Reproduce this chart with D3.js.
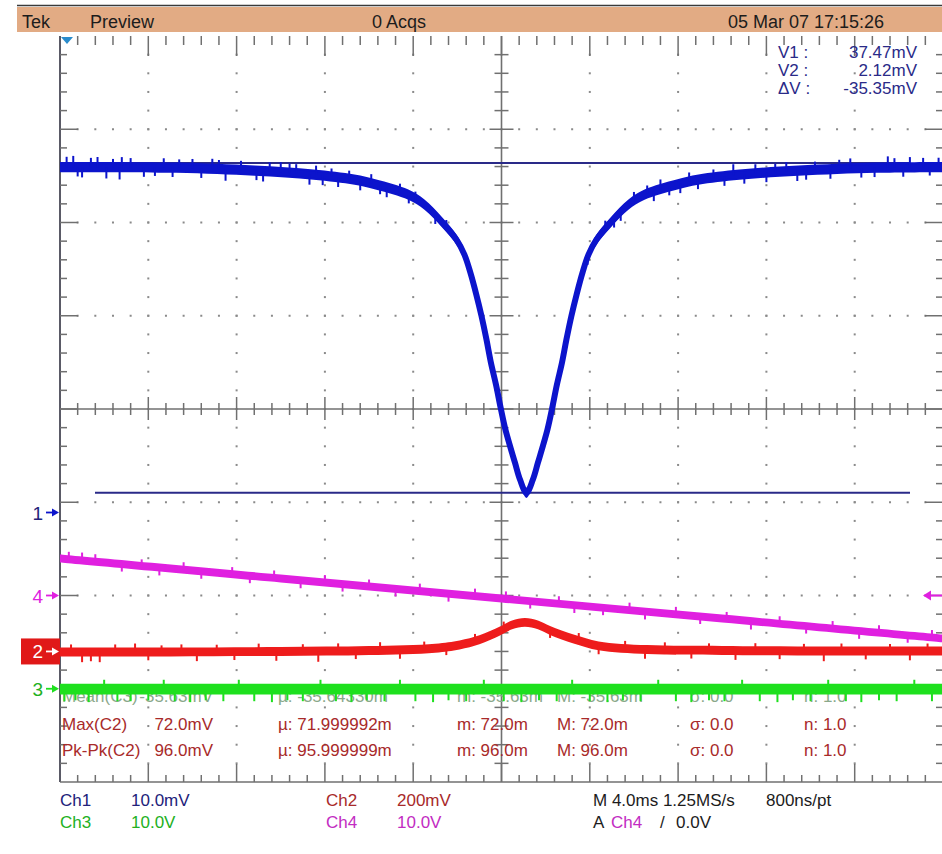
<!DOCTYPE html>
<html>
<head>
<meta charset="utf-8">
<script src="https://cdn.jsdelivr.net/npm/d3@7"></script>
<style>
  html, body { margin: 0; padding: 0; background: #fff; }
  svg { display: block; font-family: "Liberation Sans", Arial, sans-serif; }
</style>
</head>
<body>
<svg id="scope" width="942" height="854"></svg>
<script>
// ---------------- acquisition data ----------------
// Ch1: cavity transmission dip (mV) against time (ms)
const ch1Time  = [-20, -14.73, -11.19, -8.52, -6.66, -5.67, -4.22, -3.49, -2.68, -2.04, -1.68, -1.41, -1.14, -0.91, -0.68, -0.48, -0.25, -0.03, 0.18, 0.61, 0.84, 1.13,
                  1.42, 1.65, 2.08, 2.29, 2.51, 2.74, 2.94, 3.17, 3.40, 3.67, 3.94, 4.30, 4.94, 5.75, 6.48, 7.93, 8.92, 10.78, 13.45, 16.99, 20];
const ch1Volts = [37.05, 36.98, 36.66, 36.23, 35.69, 35.16, 34.08, 33.01, 31.08, 29.26, 27.65, 25.72, 23.36, 21.11, 18.53, 16.07, 13.71, 11.13, 8.88, 5.34, 3.52, 2.1,
                  3.52, 5.34, 8.88, 11.13, 13.71, 16.07, 18.53, 21.11, 23.36, 25.72, 27.65, 29.26, 31.08, 33.01, 34.08, 35.16, 35.69, 36.23, 36.66, 36.98, 37.05];
const ch1Spikes = [[-19.7, 1.1], [-19.4, 1.2], [-19.2, -1.0], [-19.0, -1.1], [-18.6, 1.0], [-18.3, 1.1], [-17.9, -1.2], [-17.6, 0.9], [-17.3, -1.3], [-17.2, 1.1], [-16.8, 1.0], [-16.2, -1.0], [-15.7, -0.9], [-15.3, 1.0], [-14.9, -1.0], [-14.6, 0.9], [-14.0, 1.0], [-13.6, -1.0], [-13.1, 1.1], [-12.8, 1.0], [-12.5, -1.2], [-11.8, 1.0], [-11.1, -1.0], [-10.8, -1.1], [-10.5, 1.0], [-10.0, 1.1], [-9.6, 1.0], [-9.3, 1.0], [-8.7, -1.1], [-8.4, 1.0], [-8.1, -1.0], [-7.7, 0.9], [-7.4, -1.0], [-6.9, 0.9], [-6.4, -1.0], [-5.9, 1.0], [-5.5, -0.9], [-5.2, -1.0], [-4.6, 0.9], [-4.2, -0.9], [-3.9, 0.8], [-3.0, -0.9], [-2.5, 0.8],
                   [3.9, -0.8], [4.7, 0.9], [5.1, -0.9], [5.4, -0.9], [6.0, 1.0], [6.6, 0.9], [6.9, -1.0], [7.2, 1.1], [7.6, -0.9], [8.1, -1.0], [8.5, 1.0], [8.9, -1.0], [9.6, 0.9], [10.1, -1.0], [10.5, 1.2], [11.0, -1.0], [11.5, 1.0], [12.0, -1.0], [12.4, 0.9], [12.9, 1.0], [13.4, -1.1], [13.8, -1.0], [14.2, 0.9], [14.9, -1.0], [15.3, 1.0], [15.8, 1.1], [16.3, -1.0], [16.9, -1.0], [17.5, 1.2], [17.8, 1.0], [18.2, -1.0], [18.5, 1.1], [19.1, 1.0], [19.4, -0.9], [19.8, 1.0]];

// Ch2: error signal bump (mV)
const ch2Time  = [-20, -15, -10, -6, -3, -1.9, -1.0, -0.07, 0.48, 1.06, 1.65, 2.2, 3.3, 4.4, 6.6, 10, 15, 20];
const ch2Volts = [-1, -1, 0, 2, 7, 14, 25, 44, 57, 62.4, 57, 45, 26, 12, 4, 2, 1, 1];
const ch2Spikes = [[-19.5, 16], [-19.0, -22], [-18.6, -20], [-18.2, -22], [-17.5, 16], [-16.6, 18], [-16.0, -18], [-15.4, 14], [-14.5, 16], [-13.8, -20], [-12.9, 15], [-12.1, -18], [-11.0, 17], [-10.2, -20], [-9.0, 15], [-8.3, -23], [-7.4, 16], [-6.6, -18], [-5.5, 17], [-4.6, -20], [-3.5, 15], [-2.5, -18], [-1.2, 15], [0.1, 16], [2.2, -16], [3.5, 16], [4.4, -18], [5.6, 15], [6.5, -20], [7.4, 16], [8.6, -18], [9.4, 15], [10.6, -20], [11.5, 16], [12.6, -18], [13.7, 15], [14.6, -22], [15.4, 16], [16.5, -18], [17.6, 15], [18.5, -20], [19.3, 16]];

// Ch3: flat reference (V)
const ch3Time  = [-20, 20];
const ch3Volts = [-0.036, -0.036];
const ch3Spikes = [[-19.8, -1.3], [-19.3, -1.2], [-18.7, -1.4], [-18.0, 1.0], [-17.4, -1.3], [-16.8, -1.3], [-16.0, -1.2], [-15.3, 1.0], [-14.8, -1.3], [-14.1, -1.4], [-13.4, -1.2], [-12.6, -1.3], [-11.9, 1.0], [-11.2, -1.3], [-10.4, -1.4], [-9.7, -1.2], [-9.0, -1.3], [-8.2, 1.0], [-7.5, -1.3], [-6.8, -1.4], [-6.1, -1.2], [-5.3, -1.3], [-4.6, 1.0], [-3.9, -1.3], [-3.1, -1.4], [-2.4, -1.2], [-1.6, -1.3], [-0.8, 1.0], [0.1, -1.3], [0.9, -1.4], [1.7, -1.2], [2.5, -1.3], [3.2, 1.0], [4.0, -1.3], [4.8, -1.4], [5.5, -1.2], [6.3, -1.3], [7.1, 1.0], [7.9, -1.3], [8.6, -1.4], [9.4, -1.2], [10.1, -1.3], [10.9, 1.0], [11.7, -1.3], [12.5, -1.4], [13.2, -1.2], [14.0, -1.3], [14.8, 1.0], [15.6, -1.3], [16.3, -1.4], [17.1, -1.2], [17.9, -1.3], [18.7, 1.0], [19.5, -1.3]];

// Ch4: piezo sweep ramp (V)
const ch4Time  = [-20, -10, 0, 10, 20];
const ch4Volts = [3.97, 1.82, -0.32, -2.47, -4.61];
const ch4Spikes = [[-19.6, 0.8], [-19.0, 0.85], [-18.4, 0.8], [-17.2, -0.8], [-16.3, 0.7], [-15.5, -0.85], [-14.4, 0.8], [-13.6, -0.8], [-12.2, 0.75], [-11.4, -0.8], [-10.3, 0.8], [-9.1, -0.85], [-8.0, 0.8], [-7.2, -0.8], [-6.0, 0.75], [-4.8, -0.8], [-3.7, 0.8], [-2.4, -0.85], [-1.2, 0.8], [0.2, 0.8], [1.3, -0.8], [2.6, 0.8], [3.3, -0.85], [4.6, -0.8], [5.8, 0.8], [6.5, -0.85], [7.9, 0.8], [9.0, -0.8], [10.2, 0.75], [11.3, -0.9], [12.6, 0.8], [13.8, -0.8], [15.0, 0.8], [16.2, -0.85], [17.1, 0.8], [18.4, -0.8], [19.5, 0.8]];

// Noise half-band of each channel (same units as its values)
const noiseLevels = { ch1: 0.55, ch2: 9.6, ch3: 0.58, ch4: 0.42 };

// Cursor measurements on Ch1 (mV)
const cursorLevels   = [37.47, 2.12];
const cursorNames    = ["V1 :", "V2 :", "\u0394V :"];
const cursorReadouts = ["37.47mV", "2.12mV", "-35.35mV"];

// Measurement table
const measNames  = ["Mean(C3)", "Max(C2)", "Pk-Pk(C2)"];
const measValues = ["-35.63mV", "72.0mV", "96.0mV"];
const measMean   = ["\u00b5: -35.64330m", "\u00b5: 71.999992m", "\u00b5: 95.999999m"];
const measMin    = ["m: -35.63m", "m: 72.0m", "m: 96.0m"];
const measMax    = ["M: -35.63m", "M: 72.0m", "M: 96.0m"];
const measSigma  = ["\u03c3: 0.0", "\u03c3: 0.0", "\u03c3: 0.0"];
const measCount  = ["n: 1.0", "n: 1.0", "n: 1.0"];

// Status texts
const headerTexts  = ["Tek", "Preview", "0 Acqs", "05 Mar 07 17:15:26"];
const channelNames = ["Ch1", "Ch2", "Ch3", "Ch4"];
const channelScale = ["10.0mV", "200mV", "10.0V", "10.0V"];
const timebaseText = ["M 4.0ms 1.25MS/s", "800ns/pt"];
const triggerText  = ["A", "Ch4", "/", "0.0V"];

// ---------------- layout ----------------
const svg = d3.select("#scope");
const GX0 = 60, GX1 = 943, GY0 = 36, GY1 = 782;
const NX = 10, NY = 8, SUB = 5;
const DX = (GX1 - GX0) / NX, DY = (GY1 - GY0) / NY;
const XC = GX0 + DX * 5, YC = GY0 + DY * 4;

const xTime = d3.scaleLinear().domain([-20, 20]).range([GX0, GX1]);
const yDiv  = d3.scaleLinear().domain([-4, 4]).range([GY1, GY0]);

const COLORS = {
  ch1: "#0c14cc", ch2: "#ee1c1c", ch3: "#1ee01e", ch4: "#e020e0",
  ch1Text: "#22227a", ch2Text: "#a82a2a", ch3Text: "#22b022", ch4Text: "#c22cc2",
  grid: "#707070", dot: "#8a8a8a", cursor: "#2a2a88", bar: "#e2ab84"
};

// Vertical settings: units per division and ground position in divisions
const channels = {
  ch1: { perDiv: 10,  pos: -1.11, time: ch1Time, volts: ch1Volts, spikes: ch1Spikes, color: COLORS.ch1, width: 6 },
  ch2: { perDiv: 200, pos: -2.60, time: ch2Time, volts: ch2Volts, spikes: ch2Spikes, color: COLORS.ch2, width: 4 },
  ch3: { perDiv: 10,  pos: -3.00, time: ch3Time, volts: ch3Volts, spikes: ch3Spikes, color: COLORS.ch3, width: 4 },
  ch4: { perDiv: 10,  pos: -2.00, time: ch4Time, volts: ch4Volts, spikes: ch4Spikes, color: COLORS.ch4, width: 4 }
};
Object.keys(channels).forEach(k => {
  const c = channels[k];
  c.noise = noiseLevels[k];
  c.y = v => yDiv(v / c.perDiv + c.pos);
});

function label(g, x, y, s, fill, size, anchor) {
  return g.append("text").attr("x", x).attr("y", y).text(s)
    .attr("fill", fill).attr("font-size", size).attr("text-anchor", anchor || "start");
}

svg.append("rect").attr("width", 942).attr("height", 854).attr("fill", "#fff");

// ---------------- header bar ----------------
const head = svg.append("g");
head.append("line").attr("x1", 17).attr("x2", 942).attr("y1", 5.5).attr("y2", 5.5)
  .attr("stroke", "#3a3a3a").attr("stroke-width", 1.5);
head.append("rect").attr("x", 17).attr("y", 7).attr("width", 925).attr("height", 25).attr("fill", COLORS.bar);
label(head, 22, 28, headerTexts[0], "#1c1c1c", 18);
label(head, 90, 28, headerTexts[1], "#1c1c1c", 18);
label(head, 372, 28, headerTexts[2], "#1c1c1c", 18);
label(head, 728, 28, headerTexts[3], "#1c1c1c", 18);

// ---------------- graticule ----------------
const grid = svg.append("g");
const minorX = d3.range(1, NX * SUB).map(i => GX0 + i * DX / SUB);
const minorY = d3.range(1, NY * SUB).map(i => GY0 + i * DY / SUB);

// dotted division lines
d3.range(1, NX).filter(i => i !== 5).forEach(i => {
  const x = GX0 + i * DX;
  grid.selectAll(null).data(minorY).join("rect")
    .attr("x", x - 1).attr("y", d => d - 1).attr("width", 2).attr("height", 2).attr("fill", COLORS.dot);
});
d3.range(1, NY).filter(j => j !== 4).forEach(j => {
  const y = GY0 + j * DY;
  grid.selectAll(null).data(minorX).join("rect")
    .attr("x", d => d - 1).attr("y", y - 1).attr("width", 2).attr("height", 2).attr("fill", COLORS.dot);
});

const tickLen = i => (i % SUB === 0 ? 18 : 7);
// left and right edges
grid.append("line").attr("x1", GX0).attr("x2", GX0).attr("y1", GY0).attr("y2", GY1)
  .attr("stroke", "#5a5a66").attr("stroke-width", 2);
grid.selectAll(null).data(minorY).join("line")
  .attr("x1", GX0).attr("x2", (d, i) => GX0 + tickLen(i + 1)).attr("y1", d => d).attr("y2", d => d)
  .attr("stroke", COLORS.grid).attr("stroke-width", 1.5);
grid.selectAll(null).data(minorY).join("line")
  .attr("x1", 942).attr("x2", (d, i) => 942 - tickLen(i + 1) + 1).attr("y1", d => d).attr("y2", d => d)
  .attr("stroke", COLORS.grid).attr("stroke-width", 1.5);
// top and bottom edges
grid.selectAll(null).data(minorX).join("line")
  .attr("x1", d => d).attr("x2", d => d).attr("y1", GY0).attr("y2", (d, i) => GY0 + tickLen(i + 1) + 2)
  .attr("stroke", COLORS.grid).attr("stroke-width", 1.5);
grid.append("line").attr("x1", GX0).attr("x2", 942).attr("y1", GY1).attr("y2", GY1)
  .attr("stroke", COLORS.grid).attr("stroke-width", 1.5);
grid.selectAll(null).data(minorX).join("line")
  .attr("x1", d => d).attr("x2", d => d).attr("y1", GY1).attr("y2", (d, i) => GY1 - tickLen(i + 1))
  .attr("stroke", COLORS.grid).attr("stroke-width", 1.5);

// centre cross with ticks
grid.append("line").attr("x1", GX0).attr("x2", 942).attr("y1", YC).attr("y2", YC)
  .attr("stroke", COLORS.grid).attr("stroke-width", 1.6);
grid.append("line").attr("x1", XC).attr("x2", XC).attr("y1", GY0).attr("y2", GY1)
  .attr("stroke", COLORS.grid).attr("stroke-width", 1.6);
grid.selectAll(null).data(minorX).join("line")
  .attr("x1", d => d).attr("x2", d => d)
  .attr("y1", (d, i) => YC - ((i + 1) % SUB === 0 ? 12 : 6))
  .attr("y2", (d, i) => YC + ((i + 1) % SUB === 0 ? 11 : 6))
  .attr("stroke", COLORS.grid).attr("stroke-width", 1.5);
grid.selectAll(null).data(minorY).join("line")
  .attr("y1", d => d).attr("y2", d => d)
  .attr("x1", (d, i) => XC - ((i + 1) % SUB === 0 ? 12 : 7))
  .attr("x2", (d, i) => XC + ((i + 1) % SUB === 0 ? 12 : 7))
  .attr("stroke", COLORS.grid).attr("stroke-width", 1.5);

// horizontal position marker
svg.append("path").attr("d", "M61,37 L73,37 L67,44 Z").attr("fill", "#2a8ccc");

// ---------------- measurement table ----------------
const meas = svg.append("g");
const rowBase = [702, 730, 756];
measNames.forEach((n, i) => {
  const col = i === 0 ? "#8aa88a" : COLORS.ch2Text;
  label(meas, 62, rowBase[i], n, col, 17);
  label(meas, 213, rowBase[i], measValues[i], col, 17, "end");
  label(meas, 278, rowBase[i], measMean[i], col, 17);
  label(meas, 457, rowBase[i], measMin[i], col, 17);
  label(meas, 557, rowBase[i], measMax[i], col, 17);
  label(meas, 690, rowBase[i], measSigma[i], col, 17);
  label(meas, 804, rowBase[i], measCount[i], col, 17);
});

// ---------------- cursors ----------------
const cur = svg.append("g");
cur.selectAll("line").data(cursorLevels).join("line")
  .attr("x1", 95).attr("x2", 910)
  .attr("y1", d => channels.ch1.y(d)).attr("y2", d => channels.ch1.y(d))
  .attr("stroke", COLORS.cursor).attr("stroke-width", 2);

// ---------------- waveforms ----------------
svg.append("clipPath").attr("id", "screen").append("rect")
  .attr("x", GX0).attr("y", GY0).attr("width", 942 - GX0).attr("height", GY1 - GY0);
const traces = svg.append("g").attr("clip-path", "url(#screen)");

function drawTrace(c) {
  const pts = c.time.map((t, i) => [t, c.volts[i]]);
  const g = traces.append("g");
  const curve = d3.curveCatmullRom.alpha(0.5);
  const band = d3.area()
    .x(d => xTime(d[0]))
    .y0(d => c.y(d[1] - c.noise))
    .y1(d => c.y(d[1] + c.noise))
    .curve(curve);
  g.append("path").attr("d", band(pts)).attr("fill", c.color);
  const mid = d3.line().x(d => xTime(d[0])).y(d => c.y(d[1])).curve(curve);
  g.append("path").attr("d", mid(pts)).attr("fill", "none")
    .attr("stroke", c.color).attr("stroke-width", c.width).attr("stroke-linejoin", "round");
  const level = d3.scaleLinear().domain(c.time).range(c.volts);
  g.selectAll("line").data(c.spikes).join("line")
    .attr("x1", d => xTime(d[0])).attr("x2", d => xTime(d[0]))
    .attr("y1", d => c.y(level(d[0])))
    .attr("y2", d => c.y(level(d[0]) + d[1]))
    .attr("stroke", c.color).attr("stroke-width", 2);
}
drawTrace(channels.ch4);
drawTrace(channels.ch2);
drawTrace(channels.ch3);
drawTrace(channels.ch1);

// ---------------- ground markers ----------------
const mk = svg.append("g");
function arrowRight(g, y, color) {
  g.append("line").attr("x1", 46).attr("x2", 55).attr("y1", y).attr("y2", y)
    .attr("stroke", color).attr("stroke-width", 1.8);
  g.append("path").attr("d", `M52,${y - 4} L59,${y} L52,${y + 4} Z`).attr("fill", color);
}
const y1g = channels.ch1.y(0), y2g = channels.ch2.y(0), y3g = channels.ch3.y(0), y4g = channels.ch4.y(0);
label(mk, 43, y1g + 7, "1", COLORS.ch1Text, 19, "end");
arrowRight(mk, y1g, COLORS.ch1);
label(mk, 43, y4g + 7, "4", COLORS.ch4, 19, "end");
arrowRight(mk, y4g, COLORS.ch4);
mk.append("rect").attr("x", 21).attr("y", y2g - 13).attr("width", 39).attr("height", 26).attr("fill", "#e01818");
label(mk, 43, y2g + 7, "2", "#fff", 19, "end");
arrowRight(mk, y2g, "#fff");
label(mk, 43, y3g + 7, "3", COLORS.ch3Text, 19, "end");
arrowRight(mk, y3g, COLORS.ch3);

// trigger level marker (Ch4, 0.0 V)
const yt = channels.ch4.y(0);
mk.append("path").attr("d", `M923,${yt} L931,${yt - 5} L931,${yt + 5} Z`).attr("fill", COLORS.ch4);
mk.append("line").attr("x1", 930).attr("x2", 942).attr("y1", yt).attr("y2", yt)
  .attr("stroke", COLORS.ch4).attr("stroke-width", 2);

// ---------------- cursor readouts ----------------
const ro = svg.append("g");
[58, 76, 94].forEach((y, i) => {
  label(ro, 778, y, cursorNames[i], COLORS.cursor, 17);
  label(ro, 917, y, cursorReadouts[i], COLORS.cursor, 17, "end");
});

// ---------------- status lines ----------------
const st = svg.append("g");
const chCols = [COLORS.ch1Text, COLORS.ch2Text, COLORS.ch3Text, COLORS.ch4Text];
const chX = [60, 326, 60, 326], chRow = [806, 806, 828, 828];
channelNames.forEach((n, i) => {
  label(st, chX[i], chRow[i], n, chCols[i], 17);
  label(st, chX[i] + 71, chRow[i], channelScale[i], chCols[i], 17);
});
label(st, 593, 806, timebaseText[0], "#1c1c1c", 17);
label(st, 766, 806, timebaseText[1], "#1c1c1c", 17);
label(st, 593, 828, triggerText[0], "#1c1c1c", 17);
label(st, 611, 828, triggerText[1], COLORS.ch4Text, 17);
label(st, 660, 828, triggerText[2], "#1c1c1c", 17);
label(st, 676, 828, triggerText[3], "#1c1c1c", 17);
</script>
</body>
</html>
